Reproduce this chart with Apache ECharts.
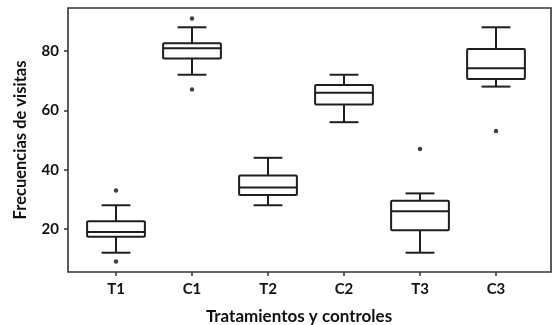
<!DOCTYPE html>
<html>
<head>
<meta charset="utf-8">
<script src="https://cdn.jsdelivr.net/npm/echarts@6/dist/echarts.min.js"></script>
<style>
html,body{margin:0;padding:0;background:#fff;}
#chart{width:554px;height:325px;}
</style>
</head>
<body>
<div id="chart"></div>
<script>
const categories = ['T1', 'C1', 'T2', 'C2', 'T3', 'C3'];
const whiskerLow = [12, 72, 28, 56, 12, 68];
const q1 = [17.4, 77.5, 31.5, 62, 19.6, 70.6];
const median = [19, 80.9, 34, 65.9, 26, 74.2];
const q3 = [22.6, 82.6, 38, 68.5, 29.5, 80.7];
const whiskerHigh = [28, 88, 44, 72, 32, 88];
const outlierCats = ['T1', 'T1', 'C1', 'C1', 'T3', 'C3'];
const outlierVals = [33, 9, 91, 67, 47, 53];
const yTicks = [20, 40, 60, 80];
const yMin = 5.5, yMax = 94.5;
const yTitle = 'Frecuencias de visitas';
const xTitle = 'Tratamientos y controles';

const boxData = categories.map((c, i) => [i, whiskerLow[i], q1[i], median[i], q3[i], whiskerHigh[i]]);
const outlierData = outlierCats.map((c, i) => [c, outlierVals[i]]);

const FONT = 'Lato';
const INK = '#111';
const LINE = '#1e1e1e';

const chart = echarts.init(document.getElementById('chart'), null, {renderer: 'canvas'});
chart.setOption({
  animation: false,
  backgroundColor: '#fff',
  title: {
    text: xTitle, left: 294, top: 303, textAlign: 'center',
    textStyle: {fontFamily: FONT, fontWeight: 'bold', fontSize: 17, color: INK}
  },
  grid: [
    {left: 68, right: 3, top: 8, bottom: 53, show: true, borderColor: '#333', borderWidth: 1.6, backgroundColor: 'transparent'},
    {left: 78, right: 20, top: 8, bottom: 53}
  ],
  xAxis: [
    {type: 'category', gridIndex: 0, show: false, data: categories},
    {
      type: 'category', gridIndex: 1, data: categories,
      axisLine: {show: false},
      axisTick: {show: true, alignWithLabel: true, length: 4, lineStyle: {color: '#333', width: 1.5}},
      axisLabel: {margin: 10, fontFamily: FONT, fontWeight: 'bold', fontSize: 15, color: INK},
      splitLine: {show: false}
    }
  ],
  yAxis: [
    {
      type: 'value', gridIndex: 0, min: yMin, max: yMax,
      name: yTitle, nameLocation: 'middle', nameGap: 39,
      nameTextStyle: {fontFamily: FONT, fontWeight: 'bold', fontSize: 16.5, color: INK},
      axisLine: {show: false},
      axisTick: {show: true, length: 4, customValues: yTicks, lineStyle: {color: '#333', width: 1.5}},
      axisLabel: {margin: 9, customValues: yTicks, fontFamily: FONT, fontWeight: 'bold', fontSize: 15, color: INK},
      splitLine: {show: false}
    },
    {type: 'value', gridIndex: 1, min: yMin, max: yMax, show: false, splitLine: {show: false}}
  ],
  series: [
    {
      type: 'custom', xAxisIndex: 1, yAxisIndex: 1,
      data: boxData,
      encode: {x: 0, y: [1, 2, 3, 4, 5]},
      renderItem: function (params, api) {
        const i = api.value(0);
        const lo = api.coord([i, api.value(1)]);
        const b1 = api.coord([i, api.value(2)]);
        const md = api.coord([i, api.value(3)]);
        const b3 = api.coord([i, api.value(4)]);
        const hi = api.coord([i, api.value(5)]);
        const bw = api.size([1, 0])[0] * 0.76;
        const cw = bw / 2;
        const cx = lo[0];
        const st = {stroke: LINE, lineWidth: 2, fill: null};
        return {
          type: 'group',
          children: [
            {type: 'line', shape: {x1: cx, y1: lo[1], x2: cx, y2: b1[1]}, style: st},
            {type: 'line', shape: {x1: cx, y1: b3[1], x2: cx, y2: hi[1]}, style: st},
            {type: 'line', shape: {x1: cx - cw / 2, y1: lo[1], x2: cx + cw / 2, y2: lo[1]}, style: st},
            {type: 'line', shape: {x1: cx - cw / 2, y1: hi[1], x2: cx + cw / 2, y2: hi[1]}, style: st},
            {type: 'rect', shape: {x: cx - bw / 2, y: b3[1], width: bw, height: b1[1] - b3[1], r: 1}, style: {stroke: LINE, lineWidth: 2, fill: '#fff'}},
            {type: 'line', shape: {x1: cx - bw / 2, y1: md[1], x2: cx + bw / 2, y2: md[1]}, style: st}
          ]
        };
      }
    },
    {
      type: 'scatter', xAxisIndex: 1, yAxisIndex: 1,
      data: outlierData, symbol: 'circle', symbolSize: 4.5,
      itemStyle: {color: '#111'}
    }
  ]
});
</script>
</body>
</html>
